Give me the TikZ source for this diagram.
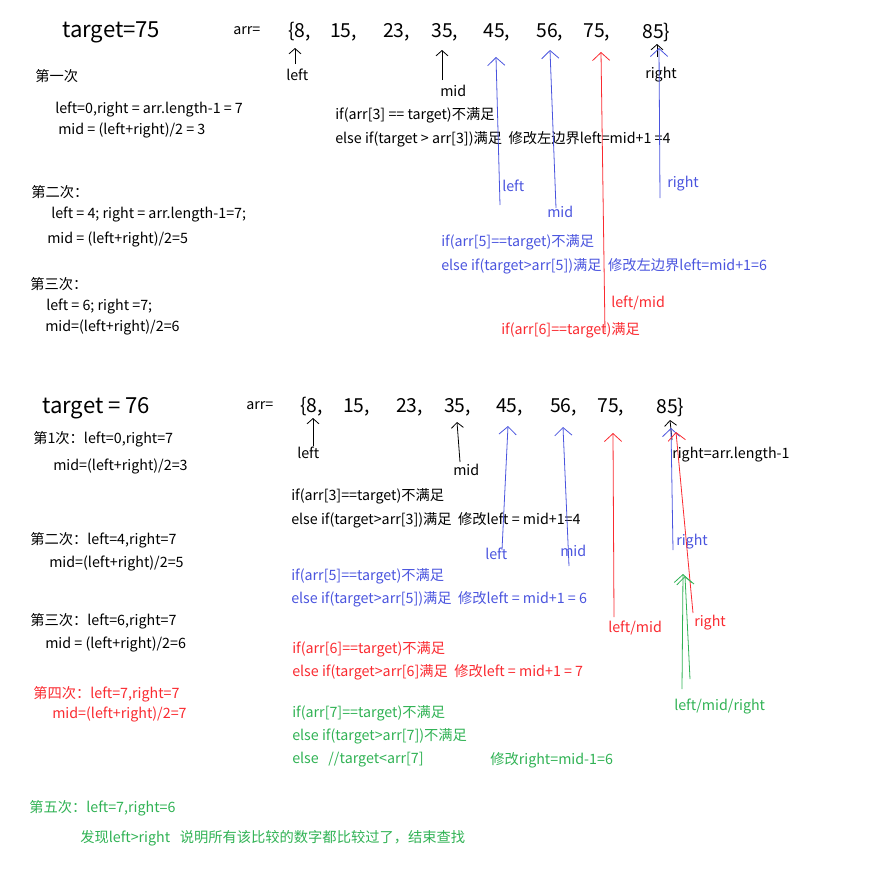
\documentclass[tikz,border=0pt]{standalone}
\usepackage{fontspec}
\setmainfont{Noto Sans CJK SC}
\usetikzlibrary{arrows.meta}
\definecolor{penblue}{RGB}{74,84,222}
\definecolor{penred}{RGB}{250,42,48}
\definecolor{pengreen}{RGB}{48,178,84}
\tikzset{
  txt/.style={anchor=west,inner sep=0pt,font=\fontsize{10.7}{12}\selectfont},
  big/.style={anchor=west,inner sep=0pt,font=\fontsize{16.6}{18}\selectfont},
  num/.style={anchor=west,inner sep=0pt,font=\fontsize{14.5}{17}\selectfont},
  ptr/.style={-{Straight Barb[length=6pt,width=13pt]},line width=0.6pt},
  sptr/.style={-{Straight Barb[length=4pt,width=9pt]},line width=0.6pt},
}
\begin{document}
\begin{tikzpicture}[x=0.75pt,y=-0.75pt]
\useasboundingbox (0,0) rectangle (890,871);

\node[big] (t1) at (62,32) {target=75};
\node[txt] (arr1) at (233,31) {arr=};
\foreach \n/\v/\x in {0/{\{8,}/288,1/{15,}/330,2/{23,}/383,3/{35,}/431,4/{45,}/483,5/{56,}/536,6/{75,}/583,7/{85\}}/642}
  \node[num] (a\n) at (\x,32) {\v};

\node[txt] (s11) at (35,76) {第一次};
\node[txt] (s12) at (55,110) {left=0,right = arr.length-1 = 7};
\node[txt] (s13) at (58,130) {mid = (left+right)/2 = 3};
\node[txt] (s21) at (31,192) {第二次：};
\node[txt] (s22) at (51,215) {left = 4; right = arr.length-1=7;};
\node[txt] (s23) at (47,239) {mid = (left+right)/2=5};
\node[txt] (s31) at (30,284) {第三次：};
\node[txt] (s32) at (46,307) {left = 6; right =7;};
\node[txt] (s33) at (45,327) {mid=(left+right)/2=6};

\node[txt] (c11) at (335,115) {if(arr[3] == target)不满足};
\node[txt] (c12) at (335,139) {else if(target > arr[3])满足\ \ 修改左边界left=mid+1\ =4};
\node[txt,penblue] (c21) at (441,242) {if(arr[5]==target)不满足};
\node[txt,penblue] (c22) at (441,266) {else if(target>arr[5])满足\ \ 修改左边界left=mid+1=6};
\node[txt,penred] (c31) at (501,330) {if(arr[6]==target)满足};

\node[txt] (lL1) at (286,75) {left};
\node[txt] (lM1) at (440,91) {mid};
\node[txt] (lR1) at (645,75) {right};
\node[txt,penblue] (lL2) at (502,186) {left};
\node[txt,penblue] (lM2) at (547,212) {mid};
\node[txt,penblue] (lR2) at (667,184) {right};
\node[txt,penred] (lLM3) at (611,303) {left/mid};

\coordinate (e1) at (295,64);
\coordinate (e2) at (442,80);
\coordinate (e3) at (657,57);
\coordinate (e4) at (500,205);
\coordinate (e5) at (556,208);
\coordinate (e6) at (660,198);
\coordinate (e7) at (605,332);
\draw[sptr] (e1) -- ([shift={(7,16)}]a0.west);
\draw[sptr] (e2) -- ([shift={(11,18)}]a3.west);
\draw[sptr] (e3) -- ([shift={(15,12)}]a7.west);
\draw[ptr,penblue] (e4) -- ([shift={(13,25)}]a4.west);
\draw[ptr,penblue] (e5) -- ([shift={(14,18)}]a5.west);
\draw[ptr,penblue] (e6) -- ([shift={(17,16)}]a7.west);
\draw[ptr,penred] (e7) -- ([shift={(18,20)}]a6.west);

\node[big] (t2) at (42,408) {target = 76};
\node[txt] (arr2) at (246,406) {arr=};
\foreach \n/\v/\x in {0/{\{8,}/300,1/{15,}/343,2/{23,}/396,3/{35,}/444,4/{45,}/496,5/{56,}/550,6/{75,}/597,7/{85\}}/656}
  \node[num] (b\n) at (\x,407) {\v};

\node[txt] (r11) at (33,439) {第1次：left=0,right=7};
\node[txt] (r12) at (53,466) {mid=(left+right)/2=3};
\node[txt] (r21) at (30,540) {第二次：left=4,right=7};
\node[txt] (r22) at (49,563) {mid=(left+right)/2=5};
\node[txt] (r31) at (30,621) {第三次：left=6,right=7};
\node[txt] (r32) at (45,644) {mid = (left+right)/2=6};
\node[txt,penred] (r41) at (33,694) {第四次：left=7,right=7};
\node[txt,penred] (r42) at (52,714) {mid=(left+right)/2=7};
\node[txt,pengreen] (r51) at (29,808) {第五次：left=7,right=6};
\node[txt,pengreen] (r52) at (80,838) {发现left>right\ \ \ 说明所有该比较的数字都比较过了，结束查找};

\node[txt] (d11) at (291,496) {if(arr[3]==target)不满足};
\node[txt] (d12) at (291,520) {else if(target>arr[3])满足\ \ 修改left = mid+1=4};
\node[txt,penblue] (d21) at (291,576) {if(arr[5]==target)不满足};
\node[txt,penblue] (d22) at (291,599) {else if(target>arr[5])满足\ \ 修改left = mid+1 = 6};
\node[txt,penred] (d31) at (292,649) {if(arr[6]==target)不满足};
\node[txt,penred] (d32) at (292,672) {else if(target>arr[6]满足\ \ 修改left = mid+1 = 7};
\node[txt,pengreen] (d41) at (292,713) {if(arr[7]==target)不满足};
\node[txt,pengreen] (d42) at (292,736) {else if(target>arr[7])不满足};
\node[txt,pengreen] (d43) at (292,760) {else\ \ \ //target<arr[7]};
\node[txt,pengreen] (d44) at (490,760) {修改right=mid-1=6};

\node[txt] (mL1) at (297,453) {left};
\node[txt] (mM1) at (453,470) {mid};
\node[txt] (mR1) at (672,455) {right=arr.length-1};
\node[txt,penblue] (mL2) at (485,554) {left};
\node[txt,penblue] (mM2) at (560,551) {mid};
\node[txt,penblue] (mR2) at (676,542) {right};
\node[txt,penred] (mLM3) at (608,628) {left/mid};
\node[txt,penred] (mR3) at (694,623) {right};
\node[txt,pengreen] (mLMR4) at (674,707) {left/mid/right};

\coordinate (f1) at (313,446);
\coordinate (f2) at (460,462);
\coordinate (f3) at (672,440);
\coordinate (f4) at (502,550);
\coordinate (f5) at (569,566);
\coordinate (f6) at (673,550);
\coordinate (f7) at (614,617);
\coordinate (f8) at (693,613);
\coordinate (g0) at (683,574);
\draw[sptr] (f1) -- ([shift={(13,11)}]b0.west);
\draw[sptr] (f2) -- ([shift={(13,15)}]b3.west);
\draw[sptr] (f3) -- ([shift={(14,13)}]b7.west);
\draw[ptr,penblue] (f4) -- ([shift={(12,19)}]b4.west);
\draw[ptr,penblue] (f5) -- ([shift={(13,20)}]b5.west);
\draw[ptr,penblue] (f6) -- ([shift={(15,21)}]b7.west);
\draw[ptr,penred] (f7) -- ([shift={(16,26)}]b6.west);
\draw[ptr,penred] (f8) -- ([shift={(20,25)}]b7.west);
\draw[ptr,pengreen] ([shift={(8,-10)}]mLMR4.north west) -- (g0);
\draw[ptr,pengreen] ([shift={(16,-20)}]mLMR4.north west) -- ([shift={(2,2)}]g0);
\end{tikzpicture}
\end{document}
